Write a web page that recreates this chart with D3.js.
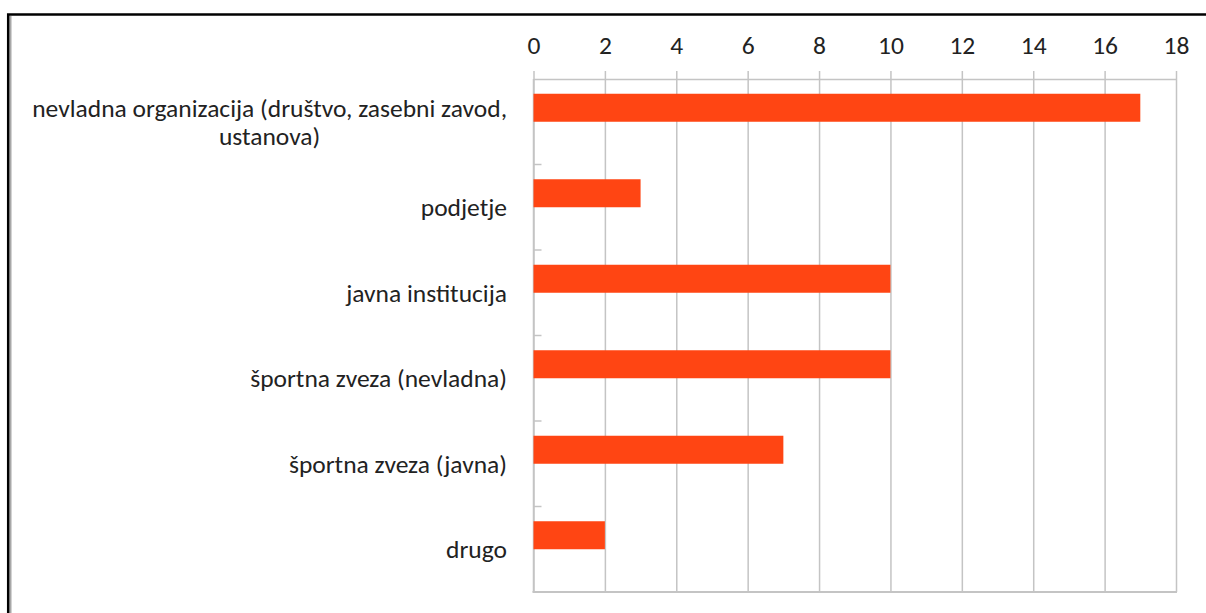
<!DOCTYPE html>
<html>
<head>
<meta charset="utf-8">
<script src="https://cdn.jsdelivr.net/npm/d3@7/dist/d3.min.js"></script>
<style>
  html, body { margin: 0; padding: 0; background: #fff; }
  svg { display: block; }
  text { font-family: Carlito, Calibri, Lato, "Open Sans", sans-serif; fill: #222; }
</style>
</head>
<body>
<svg id="chart"></svg>
<script>
    var w = 1206;
    var h = 613;

    // data
    var categories = [
      "nevladna organizacija (društvo, zasebni zavod,|ustanova)",
      "podjetje",
      "javna institucija",
      "športna zveza (nevladna)",
      "športna zveza (javna)",
      "drugo"
    ];
    var counts = [17, 3, 10, 10, 7, 2];
    var xTicks = [0, 2, 4, 6, 8, 10, 12, 14, 16, 18];

    var plot = {left: 533.5, right: 1176, top: 79, bottom: 592};
    var barH = 28;
    var fontSize = 25.5;
    var barColor = "#FF4513";
    var gridColor = "#c4c4c4";

    var svg = d3.select("#chart").attr("width", w).attr("height", h);

    var x = d3.scaleLinear().domain([0, 18]).range([plot.left, plot.right]);
    var y = d3.scaleBand().domain(categories).range([plot.top, plot.bottom]).padding(0);

    // frame around the picture
    svg.append("line").attr("x1", 10.5).attr("x2", 10.5).attr("y1", 16).attr("y2", h)
      .style("stroke", "#a8a8a8").style("stroke-width", 2);
    svg.append("path")
      .attr("d", "M8.2," + h + "V14.5H" + w)
      .style("fill", "none").style("stroke", "#000").style("stroke-width", 2.5);

    // vertical gridlines
    svg.append("g")
      .attr("transform", "translate(0," + plot.top + ")")
      .call(d3.axisTop(x).tickValues(xTicks).tickSize(-(plot.bottom - plot.top)).tickFormat(""))
      .call(function(g){ g.select(".domain").remove(); })
      .selectAll("line")
        .style("stroke", gridColor).style("stroke-width", 1.5);

    // top axis with labels
    var xAxis = svg.append("g")
      .attr("transform", "translate(0," + plot.top + ")")
      .call(d3.axisTop(x).tickValues(xTicks).tickSize(8).tickSizeOuter(0).tickPadding(17));
    xAxis.select(".domain").style("stroke", gridColor).style("stroke-width", 1.5);
    xAxis.selectAll("line").style("stroke", gridColor).style("stroke-width", 1.5);
    xAxis.selectAll("text")
      .style("font-size", fontSize + "px")
      .style("font-family", "Carlito, Calibri, Lato, 'Open Sans', sans-serif")
      .style("fill", "#222");

    // left axis line and bottom line
    svg.append("line")
      .attr("x1", plot.left).attr("x2", plot.left)
      .attr("y1", plot.top).attr("y2", plot.bottom)
      .style("stroke", gridColor).style("stroke-width", 1.5);
    svg.append("line")
      .attr("x1", plot.left - 1).attr("x2", plot.right + 1)
      .attr("y1", plot.bottom).attr("y2", plot.bottom)
      .style("stroke", gridColor).style("stroke-width", 2);

    // category tick marks at band boundaries
    svg.selectAll(".catTick")
      .data(categories.slice(1))
      .enter()
      .append("line")
      .attr("class", "catTick")
      .attr("x1", plot.left).attr("x2", plot.left + 8)
      .attr("y1", function(d){ return y(d); })
      .attr("y2", function(d){ return y(d); })
      .style("stroke", gridColor).style("stroke-width", 1.5);

    // bars sit in the upper half of each band
    svg.selectAll(".bar")
      .data(categories)
      .enter()
      .append("rect")
      .attr("class", "bar")
      .attr("x", x(0))
      .attr("y", function(d){ return y(d) + y.bandwidth()/2 - barH; })
      .attr("width", function(d, i){ return x(counts[i]) - x(0); })
      .attr("height", barH)
      .style("fill", barColor);

    // category labels, right aligned; multi-line ones centred on the first line
    var labelRight = 507;
    var lineH = 28;
    categories.forEach(function(c){
      var lines = c.split("|");
      var cy = y(c) + y.bandwidth()/2;
      var t = svg.append("text")
        .style("font-size", fontSize + "px")
        .attr("dy", "0.35em");
      if (lines.length == 1) {
        t.attr("x", labelRight).attr("y", cy).attr("text-anchor", "end").text(c);
      } else {
        t.text(lines[0]);
        var wd = t.node().getComputedTextLength();
        var mid = labelRight - wd/2;
        t.text(null).attr("text-anchor", "middle");
        lines.forEach(function(l, k){
          t.append("tspan")
            .attr("x", mid)
            .attr("y", cy - (lines.length - 1) * lineH/2 + k * lineH)
            .attr("dy", "0.35em")
            .text(l);
        });
      }
    });
</script>
</body>
</html>
